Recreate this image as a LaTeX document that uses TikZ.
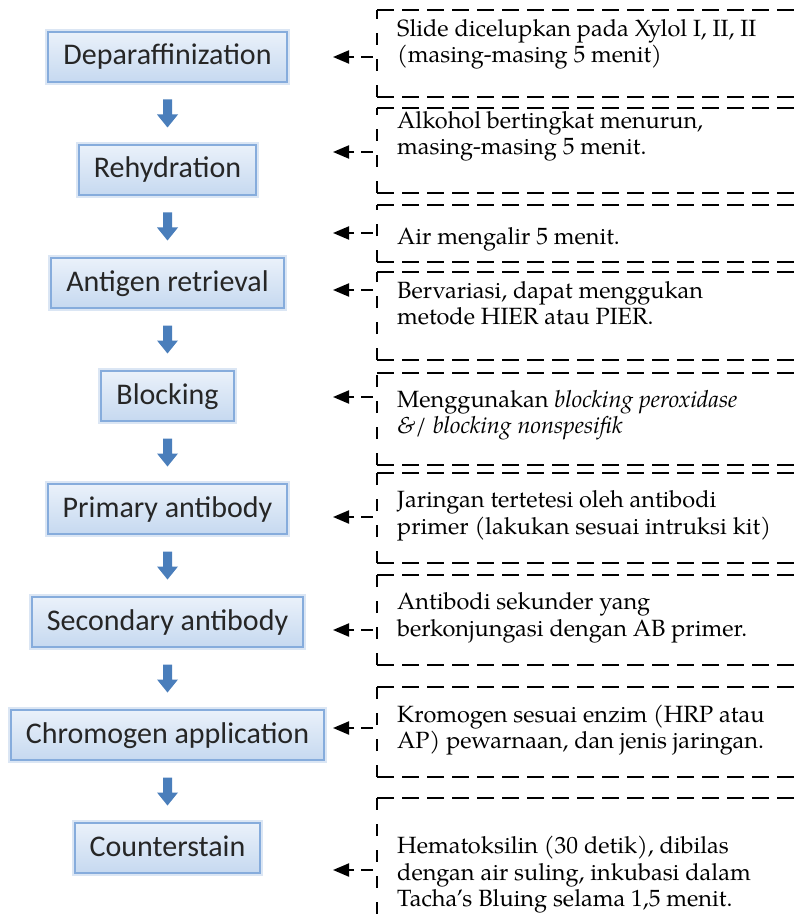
\documentclass[tikz,border=0pt]{standalone}
\usepackage{fontspec}
\setmainfont{TeX Gyre Pagella}
\newfontfamily\carl{Carlito}
\usetikzlibrary{arrows.meta,calc}
\definecolor{boxtop}{HTML}{EAF1FA}
\definecolor{boxbot}{HTML}{C6D9F0}
\definecolor{boxline}{HTML}{86ACDC}
\definecolor{arrblue}{HTML}{4A7EBB}
\definecolor{txtgray}{HTML}{262626}
\tikzset{
  stepbox/.style={rectangle, draw=boxline, line width=2pt,
    preaction={draw=boxline!30, line width=6pt},
    top color=boxtop, bottom color=boxbot, minimum height=50pt,
    inner xsep=15pt, inner ysep=0pt, text height=19pt, text depth=3pt,
    font=\carl\fontsize{30}{34}\selectfont, text=txtgray},
  note/.style={anchor=west, align=left, inner sep=0pt,
    font=\fontsize{23.5}{26.5}\selectfont},
  dashh/.style={line width=2.4pt, dash pattern=on 17pt off 8pt},
  dashv/.style={line width=2.4pt, dash pattern=on 12pt off 14pt},
  callout/.style={line width=2pt, dash pattern=on 12pt off 7pt, dash phase=15pt,
    -{Triangle[length=16pt,width=13pt]}},
  downarr/.style={fill=arrblue}
}
\newcommand\rbox[2]{%
  \draw[dashh] (377,#1) -- (794,#1);
  \draw[dashv] (377,#2) -- (377,#1);
  \draw[dashh] (377,#2) -- (794,#2);}
\newcommand\darr[2]{%
  \fill[downarr] ($(#1.south)!0.5!(#2.north)$) ++(-4.5,-14) -- ++(9,0) -- ++(0,15)
    -- ++(6,0) -- ++(-10.5,13) -- ++(-10.5,-13) -- ++(6,0) -- cycle;}
\begin{document}
\begin{tikzpicture}[x=1pt,y=-1pt]
\useasboundingbox[fill=white] (0,0) rectangle (794,917);

% left column
\node[stepbox] (l1) at (167.5,57)  {Deparaffinization};
\node[stepbox] (l2) at (167.5,170) {Rehydration};
\node[stepbox] (l3) at (167.5,283) {Antigen retrieval};
\node[stepbox] (l4) at (167.5,396) {Blocking};
\node[stepbox] (l5) at (167.5,509) {Primary antibody};
\node[stepbox] (l6) at (167.5,622) {Secondary antibody};
\node[stepbox] (l7) at (167.5,735) {Chromogen application};
\node[stepbox] (l8) at (167.5,848) {Counterstain};

\darr{l1}{l2}
\darr{l2}{l3}
\darr{l3}{l4}
\darr{l4}{l5}
\darr{l5}{l6}
\darr{l6}{l7}
\darr{l7}{l8}

% right column outlines
\rbox{10}{97}
\rbox{108}{193}
\rbox{205}{262}
\rbox{272}{360}
\rbox{373}{465}
\rbox{473}{563}
\rbox{575}{665}
\rbox{687}{777}
\draw[dashh] (377,798) -- (794,798);
\draw[dashv] (377,798) -- (377,917);

% right column texts
\node[note] (r1) at (397,44.5) {Slide dicelupkan pada Xylol I, II, II\\(masing-masing 5 menit)};
\node[note] (r2) at (397,136.5) {Alkohol bertingkat menurun,\\masing-masing 5 menit.};
\node[note] (r3) at (397,239) {Air mengalir 5 menit.};
\node[note] (r4) at (397,303) {Bervariasi, dapat menggukan\\metode HIER atau PIER.};
\node[note] (r5) at (397,415) {Menggunakan \textit{blocking peroxidase}\\\textit{\&/ blocking nonspesifik}};
\node[note] (r6) at (397,516) {Jaringan tertetesi oleh antibodi\\primer (lakukan sesuai intruksi kit)};
\node[note] (r7) at (397,618) {Antibodi sekunder yang\\berkonjungasi dengan AB primer.};
\node[note] (r8) at (397,730) {Kromogen sesuai enzim (HRP atau\\AP) pewarnaan, dan jenis jaringan.};
\node[note] (r9) at (397,875) {Hematoksilin (30 detik), dibilas\\dengan air suling, inkubasi dalam\\Tacha’s Bluing selama 1,5 menit.};

% callout connectors
\foreach \i/\y in {1/57,2/152,3/233,4/290,5/397,6/517,7/630,8/728,9/870}{
  \coordinate (e\i) at (377,\y);
  \coordinate (c\i) at (333,\y);
  \draw[callout] (e\i) -- (c\i);
}
\end{tikzpicture}
\end{document}
